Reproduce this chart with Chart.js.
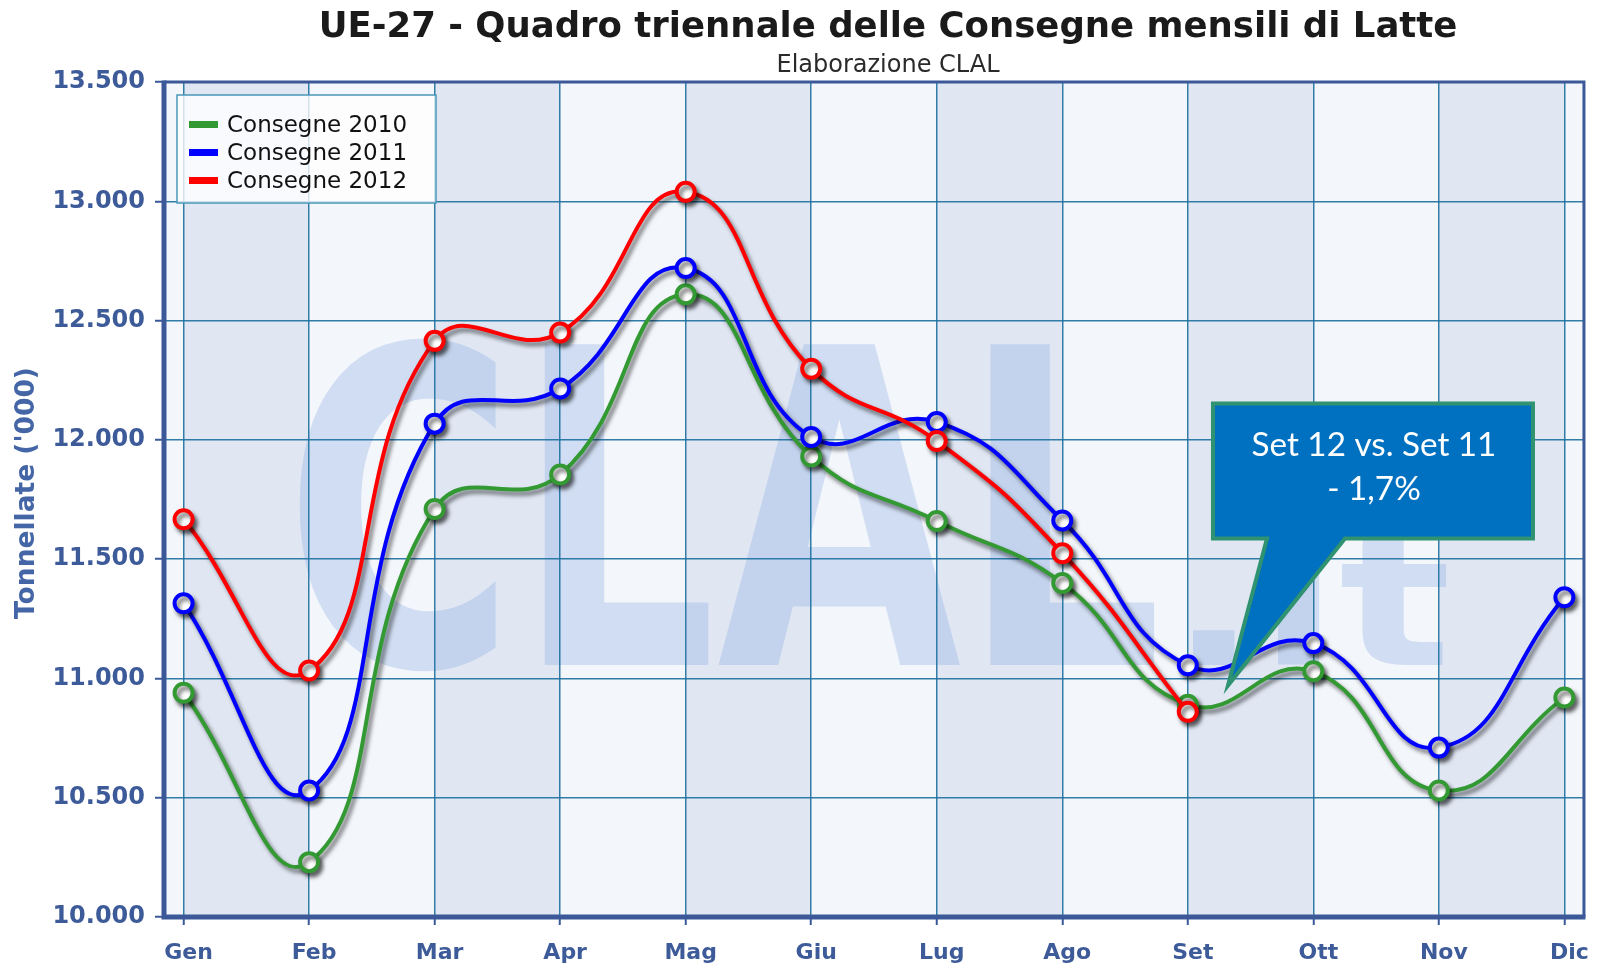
<!DOCTYPE html>
<html>
<head>
<meta charset="utf-8">
<script src="https://cdn.jsdelivr.net/npm/chart.js@4.4.0/dist/chart.umd.min.js"></script>
<style>
  html, body { margin: 0; padding: 0; background: #ffffff; }
  #wrap { width: 1599px; height: 966px; position: relative; }
</style>
</head>
<body>
<div id="wrap"><canvas id="c" width="1599" height="966"></canvas></div>
<script>
// ---- data ----
const months = ['Gen','Feb','Mar','Apr','Mag','Giu','Lug','Ago','Set','Ott','Nov','Dic'];
const consegne2010 = [10940, 10230, 11710, 11855, 12610, 11930, 11660, 11400, 10890, 11030, 10530, 10920];
const consegne2011 = [11315, 10530, 12068, 12215, 12720, 12012, 12075, 11662, 11055, 11148, 10710, 11340];
const consegne2012 = [11667, 11033, 12415, 12450, 13040, 12298, 11995, 11525, 10860, null, null, null];
const seriesLabels = ['Consegne 2010', 'Consegne 2011', 'Consegne 2012'];
const yMin = 10000, yMax = 13500, yStep = 500;
const titleText = 'UE-27 - Quadro triennale delle Consegne mensili di Latte';
const subtitleText = 'Elaborazione CLAL';
const yTitleText = "Tonnellate ('000)";
const calloutLines = ['Set 12 vs. Set 11', '- 1,7%'];
const calloutAnchor = { x: 8.32, y: 10970 };

// ---- styles ----
const COLORS = ['#339933', '#0000ff', '#ff0000'];
const labelColor = '#3d5a99';
const axisColor = '#3b5998';
const gridColor = 'rgba(28,112,158,0.9)';
const bandLight = '#f3f6fb';
const bandDark = '#e0e7f3';

function toXY(arr) { return arr.map((v, i) => ({ x: i, y: v })); }
function fmt(v) { return String(v).replace(/\B(?=(\d{3})+(?!\d))/g, '.'); }

function fitSize(ctx, text, weight, family, target) {
  ctx.font = weight + ' 100px ' + family;
  return 100 * target / ctx.measureText(text).width;
}

function stretchText(ctx, text, left, right, top, bottom, refChar) {
  ctx.save();
  ctx.font = 'bold 100px "DejaVu Sans"';
  const w = ctx.measureText(text).width;
  const h = ctx.measureText(refChar).actualBoundingBoxAscent;
  ctx.translate(left, bottom);
  ctx.scale((right - left) / w, (bottom - top) / h);
  ctx.textBaseline = 'alphabetic';
  ctx.textAlign = 'left';
  ctx.fillText(text, 0, 0);
  ctx.restore();
}

const decorPlugin = {
  id: 'decor',
  beforeDraw(chart) {
    const { ctx, chartArea: a, scales } = chart;
    const xs = scales.x;
    ctx.save();
    ctx.fillStyle = bandLight;
    ctx.fillRect(a.left, a.top, a.right - a.left, a.bottom - a.top);
    ctx.fillStyle = bandDark;
    for (let i = 0; i < months.length - 1; i += 2) {
      const x1 = xs.getPixelForValue(i), x2 = xs.getPixelForValue(i + 1);
      ctx.fillRect(x1, a.top, x2 - x1, a.bottom - a.top);
    }
    // watermark
    ctx.beginPath();
    ctx.rect(a.left, a.top, a.right - a.left, a.bottom - a.top);
    ctx.clip();
    ctx.fillStyle = 'rgba(140,172,225,0.34)';
    stretchText(ctx, 'CLAL', xs.getPixelForValue(0.8), xs.getPixelForValue(7.8), 335, 665, 'C');
    stretchText(ctx, '.it', xs.getPixelForValue(7.85), xs.getPixelForValue(10.1), 537, 665, 't');
    ctx.restore();
  },
  beforeDatasetsDraw(chart) {
    const ctx = chart.ctx;
    ctx.save();
    ctx.shadowColor = 'rgba(0,0,0,0.55)';
    ctx.shadowBlur = 4;
    ctx.shadowOffsetX = 3;
    ctx.shadowOffsetY = 4;
  },
  afterDatasetsDraw(chart) {
    chart.ctx.restore();
  },
  afterDraw(chart) {
    const { ctx, chartArea: a, scales } = chart;
    ctx.save();
    // frame
    ctx.strokeStyle = axisColor;
    ctx.lineWidth = 3;
    ctx.beginPath();
    ctx.moveTo(a.left, a.top); ctx.lineTo(a.right, a.top); ctx.lineTo(a.right, a.bottom);
    ctx.stroke();
    ctx.lineWidth = 5;
    ctx.beginPath();
    ctx.moveTo(a.left, a.top - 1.5); ctx.lineTo(a.left, a.bottom); ctx.lineTo(a.right + 1.5, a.bottom);
    ctx.stroke();

    // title
    ctx.fillStyle = '#1a1a1a';
    ctx.textAlign = 'center';
    ctx.textBaseline = 'alphabetic';
    let s = fitSize(ctx, titleText, 'bold', '"DejaVu Sans"', 1139);
    ctx.font = 'bold ' + s + 'px "DejaVu Sans"';
    ctx.fillText(titleText, 888, 37);
    s = fitSize(ctx, subtitleText, 'normal', '"DejaVu Sans"', 243);
    ctx.font = 'normal ' + Math.min(s, 24) + 'px "DejaVu Sans"';
    ctx.fillStyle = '#2a2a2a';
    ctx.fillText(subtitleText, 888, 72);

    // y title
    ctx.save();
    ctx.translate(27, 493);
    ctx.rotate(-Math.PI / 2);
    s = fitSize(ctx, yTitleText, 'bold', '"DejaVu Sans"', 252);
    ctx.font = 'bold ' + s + 'px "DejaVu Sans"';
    ctx.fillStyle = '#4466a6';
    ctx.textBaseline = 'middle';
    ctx.fillText(yTitleText, 0, 0);
    ctx.restore();

    // legend
    const lx = 177, ly = 95, lw = 259, lh = 108;
    ctx.fillStyle = 'rgba(255,255,255,0.78)';
    ctx.fillRect(lx, ly, lw, lh);
    ctx.strokeStyle = '#4a98b8';
    ctx.lineWidth = 1.5;
    ctx.strokeRect(lx, ly, lw, lh);
    ctx.font = '23px "DejaVu Sans"';
    ctx.textAlign = 'left';
    ctx.textBaseline = 'alphabetic';
    chart.data.datasets.slice().sort((p, q) => p.legendIndex - q.legendIndex).forEach((ds, i) => {
      const cy = 124.5 + i * 28;
      ctx.fillStyle = ds.borderColor;
      ctx.fillRect(189, cy - 3.5, 29, 7);
      ctx.fillStyle = '#111';
      ctx.fillText(ds.label, 227, cy + 7);
    });

    // callout
    const tx = scales.x.getPixelForValue(calloutAnchor.x);
    const ty = scales.y.getPixelForValue(calloutAnchor.y);
    const L = tx - 15, R = tx + 305, T = ty - 282, B = ty - 147;
    ctx.beginPath();
    ctx.moveTo(L, T); ctx.lineTo(R, T); ctx.lineTo(R, B);
    ctx.lineTo(tx + 117, B); ctx.lineTo(tx, ty); ctx.lineTo(tx + 39, B);
    ctx.lineTo(L, B); ctx.closePath();
    ctx.fillStyle = '#0070c0';
    ctx.fill();
    ctx.lineJoin = 'miter';
    ctx.strokeStyle = '#2f9270';
    ctx.lineWidth = 4;
    ctx.stroke();
    ctx.fillStyle = '#ffffff';
    ctx.textAlign = 'center';
    s = fitSize(ctx, calloutLines[0], 'normal', 'Lato', 245);
    ctx.font = 'normal ' + s + 'px Lato';
    ctx.fillText(calloutLines[0], (L + R) / 2 + 1, T + 52);
    ctx.fillText(calloutLines[1], (L + R) / 2 + 1, T + 96);
    ctx.restore();
  }
};

const seriesData = [consegne2010, consegne2011, consegne2012];
const drawOrder = [2, 1, 0];
const datasets = seriesData.map((arr, i) => ({
  label: seriesLabels[i],
  legendIndex: i,
  data: toXY(arr),
  borderColor: COLORS[i],
  backgroundColor: COLORS[i],
  borderWidth: 4,
  tension: 0.47,
  pointRadius: 9,
  pointBorderWidth: 4,
  pointBackgroundColor: '#ffffff',
  pointBorderColor: COLORS[i],
  spanGaps: false,
  fill: false,
  order: drawOrder[i]
}));

new Chart(document.getElementById('c'), {
  type: 'line',
  data: { datasets },
  plugins: [decorPlugin],
  options: {
    responsive: false,
    animation: false,
    layout: { padding: { top: 82, right: 15, left: 0, bottom: 0 } },
    plugins: { legend: { display: false }, tooltip: { enabled: false }, title: { display: false } },
    scales: {
      x: {
        type: 'linear',
        min: -0.156,
        max: 11.156,
        afterFit(sc) { sc.height = 49; },
        border: { display: false },
        grid: { color: gridColor, lineWidth: 1.5, tickLength: 8, tickColor: axisColor, tickWidth: 2 },
        ticks: {
          stepSize: 1,
          includeBounds: false,
          autoSkip: false,
          maxRotation: 0,
          labelOffset: 5,
          padding: 15,
          color: labelColor,
          font: { family: '"DejaVu Sans"', weight: 'bold', size: 22 },
          callback: (v) => (months[v] !== undefined ? months[v] : '')
        }
      },
      y: {
        min: yMin,
        max: yMax,
        afterFit(sc) { sc.width = 164; },
        border: { display: false },
        grid: { color: gridColor, lineWidth: 1.5, tickLength: 9, tickColor: axisColor, tickWidth: 2 },
        ticks: {
          stepSize: yStep,
          padding: 10,
          color: labelColor,
          font: { family: '"DejaVu Sans"', weight: 'bold', size: 24 },
          callback: (v) => fmt(v)
        }
      }
    }
  }
});
</script>
</body>
</html>
